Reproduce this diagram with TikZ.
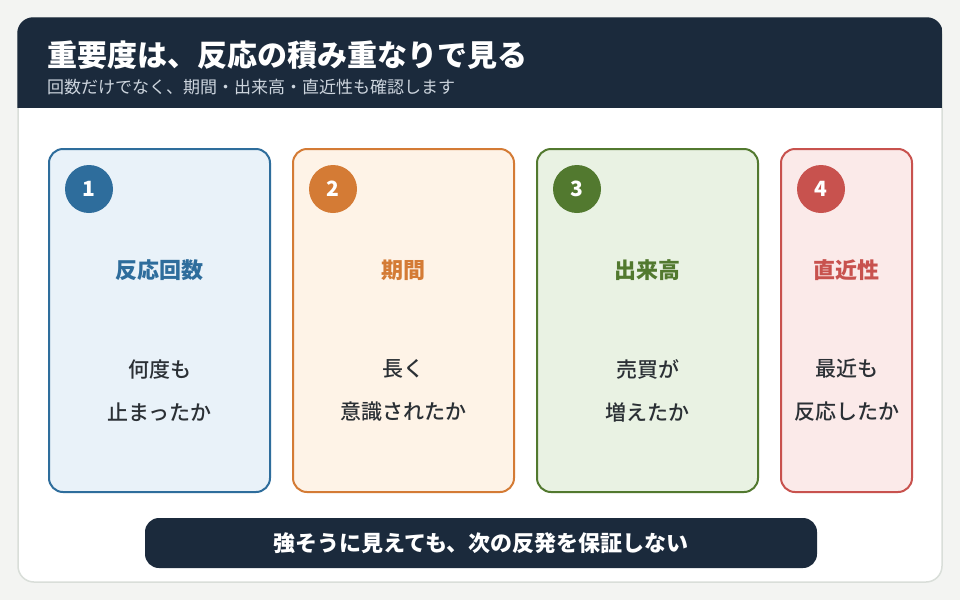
\documentclass[tikz,border=0pt]{standalone}
\usepackage{fontspec}
\setmainfont{Noto Sans CJK JP}
\newfontfamily\medio{Noto Sans CJK JP Medium}
\usetikzlibrary{positioning}
\usetikzlibrary{calc}
\definecolor{papel}{HTML}{F3F4F2}
\definecolor{borda}{HTML}{D9DED9}
\definecolor{escuro}{HTML}{1B2A3C}
\definecolor{subtit}{HTML}{CDD5DE}
\definecolor{texto}{HTML}{2B3035}
\definecolor{azul}{HTML}{2E6D9C}
\definecolor{azulclaro}{HTML}{E9F2F9}
\definecolor{laranja}{HTML}{D47B35}
\definecolor{laranjaclaro}{HTML}{FEF3E7}
\definecolor{verde}{HTML}{52792F}
\definecolor{verdeclaro}{HTML}{E9F2E3}
\definecolor{vermelho}{HTML}{C8524E}
\definecolor{vermelhoclaro}{HTML}{FBEAE9}
\tikzset{
  cartao/.style 2 args={draw=#1, fill=#2, line width=2pt, rounded corners=14pt, minimum width=221pt, minimum height=343pt, inner sep=0pt},
  numero/.style={circle, fill=#1, text=white, minimum size=48pt, inner sep=0pt, font=\bfseries\fontsize{21}{24}\selectfont},
  rotulo/.style={text=#1, inner sep=0pt, font=\bfseries\fontsize{22}{24}\selectfont},
  corpo/.style={text=texto, align=center, inner sep=0pt, font=\medio\fontsize{21}{43}\selectfont},
}

\begin{document}
\begin{tikzpicture}[x=1pt, y=-1pt]
  \fill[papel] (0,0) rectangle (960,600);
  \useasboundingbox (0,0) rectangle (960,600);

  % quadro principal e cabecalho
  \node[draw=borda, fill=white, line width=1.5pt, rounded corners=16pt, minimum width=924pt, minimum height=564pt, inner sep=0pt] (quadro) at (480,300) {};
  \begin{scope}
    \clip[rounded corners=16pt] (quadro.north west) rectangle (quadro.south east);
    \fill[escuro] (quadro.north west) rectangle (942,108);
  \end{scope}
  \node[anchor=west, text=white, inner sep=0pt, font=\bfseries\fontsize{30}{32}\selectfont] (titulo) at (47,55) {重要度は、反応の積み重なりで見る};
  \node[anchor=west, text=subtit, inner sep=0pt, font=\fontsize{17}{20}\selectfont] (subtitulo) at (47,87.5) {回数だけでなく、期間・出来高・直近性も確認します};

  % cartoes
  \node[cartao={azul}{azulclaro}] (c1) at (159.5,320.5) {};
  \node[cartao={laranja}{laranjaclaro}, right=21pt of c1] (c2) {};
  \node[cartao={verde}{verdeclaro}, right=21pt of c2] (c3) {};
  \node[cartao={vermelho}{vermelhoclaro}, minimum width=131pt, right=21pt of c3] (c4) {};

  \node[numero=azul] (n1) at ($(c1.north west)+(41,41)$) {1};
  \node[rotulo=azul] (r1) at ($(c1.north)+(0,122)$) {反応回数};
  \node[corpo] (t1) at ($(c1.north)+(0,242.5)$) {何度も\\止まったか};

  \node[numero=laranja] (n2) at ($(c2.north west)+(41,41)$) {2};
  \node[rotulo=laranja] (r2) at ($(c2.north)+(0,122)$) {期間};
  \node[corpo] (t2) at ($(c2.north)+(0,242.5)$) {長く\\意識されたか};

  \node[numero=verde] (n3) at ($(c3.north west)+(41,41)$) {3};
  \node[rotulo=verde] (r3) at ($(c3.north)+(0,122)$) {出来高};
  \node[corpo] (t3) at ($(c3.north)+(0,242.5)$) {売買が\\増えたか};

  \node[numero=vermelho] (n4) at ($(c4.north west)+(41,41)$) {4};
  \node[rotulo=vermelho] (r4) at ($(c4.north)+(0,122)$) {直近性};
  \node[corpo] (t4) at ($(c4.north)+(0,242.5)$) {最近も\\反応したか};

  % faixa de aviso
  \node[fill=escuro, rounded corners=14pt, minimum width=672pt, minimum height=50pt, text=white, font=\bfseries\fontsize{22}{24}\selectfont] (aviso) at (481,543) {強そうに見えても、次の反発を保証しない};
\end{tikzpicture}
\end{document}
